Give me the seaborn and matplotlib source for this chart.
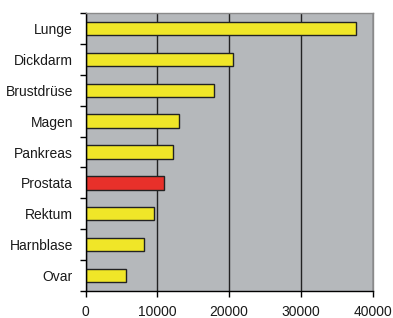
import matplotlib
matplotlib.use("Agg")
import matplotlib.pyplot as plt
import numpy as np
import pandas as pd
import seaborn as sns

# Neuerkrankungen / Sterbefaelle je Lokalisation
organs = ["Lunge", "Dickdarm", "Brustdrüse", "Magen", "Pankreas",
          "Prostata", "Rektum", "Harnblase", "Ovar"]
cases = [37700, 20500, 17900, 13100, 12200, 11000, 9600, 8100, 5650]
highlight = "Prostata"

yellow = "#f0e628"
red = "#e8302a"

sns.set_theme(style="white")
plt.rcParams["font.family"] = ["Liberation Sans", "DejaVu Sans"]

df = pd.DataFrame({"organ": organs, "cases": cases})
palette = {o: (red if o == highlight else yellow) for o in organs}

fig = plt.figure(figsize=(3.93, 3.18), dpi=100)
ax = fig.add_axes([85.5 / 393, 1 - 291 / 318, (372.5 - 85.5) / 393, (291 - 13) / 318])
ax.set_facecolor("#b5b8bb")

sns.barplot(data=df, y="organ", x="cases", hue="organ", palette=palette,
            order=organs, width=0.43, edgecolor="#222222", linewidth=1.0,
            saturation=1, legend=False, ax=ax)

ax.set_xlim(0, 40000)
ax.set_ylim(len(organs) - 0.5, -0.5)
ax.set_xticks([0, 10000, 20000, 30000, 40000])
ax.xaxis.grid(True, color="#222222", linewidth=1.0)
ax.set_axisbelow(True)

# category boundaries get the tick marks, labels sit in between
ax.set_yticks(np.arange(len(organs)))
ax.set_yticklabels(organs)
ax.set_yticks(np.arange(-0.5, len(organs)), minor=True)
ax.tick_params(axis="y", which="major", length=0, pad=9, labelsize=10, labelcolor="#1a1a1a")
ax.tick_params(axis="y", which="minor", length=4, width=1, color="black", left=True)
ax.tick_params(axis="x", length=4, width=1, color="black", bottom=True, labelsize=10,
               pad=6, labelcolor="#1a1a1a")

ax.set_xlabel("")
ax.set_ylabel("")
for side in ["left", "bottom"]:
    ax.spines[side].set_color("black")
    ax.spines[side].set_linewidth(1.0)
for side in ["top", "right"]:
    ax.spines[side].set_color("#8a8a8a")
    ax.spines[side].set_linewidth(1.0)

fig.savefig("out.png", dpi=100)
plt.close(fig)
